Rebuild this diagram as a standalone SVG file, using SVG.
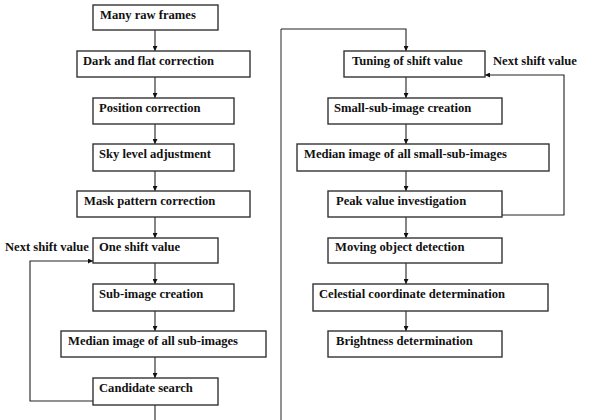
<svg xmlns="http://www.w3.org/2000/svg" width="601" height="420" viewBox="0 0 601 420">
<defs>
<marker id="ah" viewBox="0 0 10 10" refX="10" refY="5" markerWidth="5" markerHeight="5" orient="auto" markerUnits="userSpaceOnUse">
<path d="M0,0 L10,5 L0,10 Z" fill="#111"/>
</marker>
<style>
.box{fill:#fff;stroke:#333;stroke-width:1.4}
.t{font-family:"Liberation Serif","Times New Roman",serif;font-weight:bold;font-size:12.6px;fill:#111}
.c{fill:none;stroke:#222;stroke-width:1.1}
.g{fill:none;stroke:#777;stroke-width:1.6}
</style>
</defs>
<rect width="601" height="420" fill="#fff"/>
<g id="connectors">
<line class="c" x1="155" y1="30" x2="155" y2="51" marker-end="url(#ah)"/>
<line class="c" x1="155" y1="77" x2="155" y2="98" marker-end="url(#ah)"/>
<line class="c" x1="155" y1="124" x2="155" y2="144" marker-end="url(#ah)"/>
<line class="c" x1="155" y1="171" x2="155" y2="191" marker-end="url(#ah)"/>
<line class="c" x1="155" y1="217" x2="155" y2="238" marker-end="url(#ah)"/>
<line class="c" x1="155" y1="263" x2="155" y2="284" marker-end="url(#ah)"/>
<line class="c" x1="155" y1="311" x2="155" y2="331" marker-end="url(#ah)"/>
<line class="c" x1="155" y1="357" x2="155" y2="378" marker-end="url(#ah)"/>
<line class="c" x1="155" y1="405" x2="155" y2="420"/>
<polyline class="c" points="93,401 30,401 30,261 93,261" marker-end="url(#ah)"/>
<line class="g" x1="281" y1="420" x2="281" y2="29"/>
<polyline class="c" points="281,29 406,29 406,51" marker-end="url(#ah)"/>
<line class="c" x1="406" y1="77" x2="406" y2="98" marker-end="url(#ah)"/>
<line class="c" x1="406" y1="124" x2="406" y2="144" marker-end="url(#ah)"/>
<line class="c" x1="406" y1="171" x2="406" y2="191" marker-end="url(#ah)"/>
<line class="c" x1="406" y1="217" x2="406" y2="238" marker-end="url(#ah)"/>
<line class="c" x1="406" y1="263" x2="406" y2="284" marker-end="url(#ah)"/>
<line class="c" x1="406" y1="311" x2="406" y2="331" marker-end="url(#ah)"/>
<polyline class="c" points="502,215 564,215 564,75 485,75" marker-end="url(#ah)"/>
</g>
<g id="n1"><rect class="box" x="93" y="5" width="125" height="25"/><text class="t" x="100" y="19">Many raw frames</text></g>
<g id="n2"><rect class="box" x="77" y="51" width="173" height="26"/><text class="t" x="83" y="65">Dark and flat correction</text></g>
<g id="n3"><rect class="box" x="93" y="98" width="141" height="26"/><text class="t" x="99" y="112">Position correction</text></g>
<g id="n4"><rect class="box" x="93" y="144" width="141" height="27"/><text class="t" x="99" y="158">Sky level adjustment</text></g>
<g id="n5"><rect class="box" x="77" y="191" width="173" height="26"/><text class="t" x="84" y="205">Mask pattern correction</text></g>
<g id="n6"><rect class="box" x="93" y="238" width="125" height="25"/><text class="t" x="99" y="251">One shift value</text></g>
<g id="lbl1"><text class="t" x="5" y="251">Next shift value</text></g>
<g id="n7"><rect class="box" x="93" y="284" width="141" height="27"/><text class="t" x="99" y="298">Sub-image creation</text></g>
<g id="n8"><rect class="box" x="61" y="331" width="205" height="26"/><text class="t" x="68" y="345">Median image of all sub-images</text></g>
<g id="n9"><rect class="box" x="93" y="378" width="125" height="27"/><text class="t" x="99" y="392">Candidate search</text></g>
<g id="r1"><rect class="box" x="344" y="51" width="141" height="26"/><text class="t" x="352" y="65">Tuning of shift value</text></g>
<g id="lbl2"><text class="t" x="493" y="65">Next shift value</text></g>
<g id="r2"><rect class="box" x="328" y="98" width="174" height="26"/><text class="t" x="334" y="112">Small-sub-image creation</text></g>
<g id="r3"><rect class="box" x="297" y="144" width="252" height="27"/><text class="t" x="304" y="158">Median image of all small-sub-images</text></g>
<g id="r4"><rect class="box" x="328" y="191" width="174" height="26"/><text class="t" x="336" y="205">Peak value investigation</text></g>
<g id="r5"><rect class="box" x="328" y="238" width="174" height="25"/><text class="t" x="335" y="251">Moving object detection</text></g>
<g id="r6"><rect class="box" x="313" y="284" width="235" height="27"/><text class="t" x="319" y="298">Celestial coordinate determination</text></g>
<g id="r7"><rect class="box" x="328" y="331" width="174" height="26"/><text class="t" x="336" y="345">Brightness determination</text></g>
</svg>
